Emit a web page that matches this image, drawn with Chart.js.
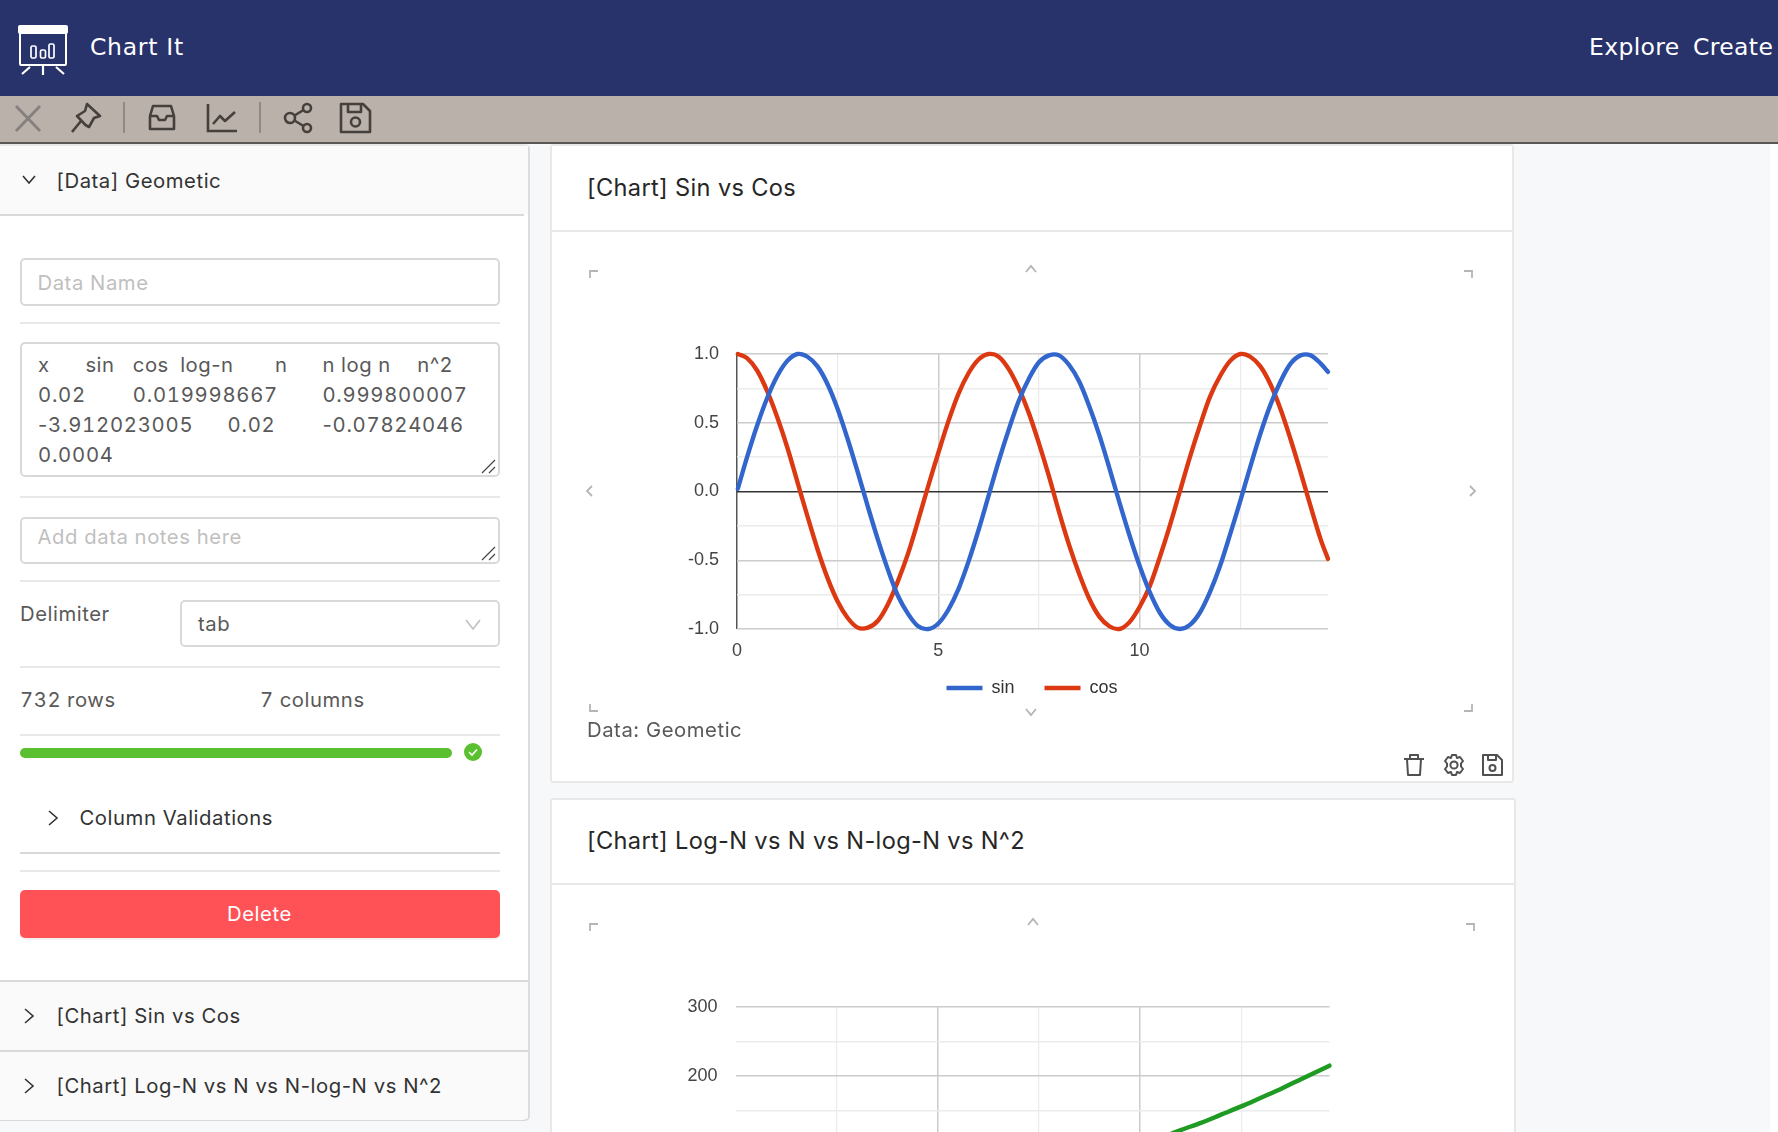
<!DOCTYPE html>
<html>
<head>
<meta charset="utf-8">
<script src="https://cdn.jsdelivr.net/npm/chart.js@4/dist/chart.umd.min.js"></script>
<style>
html,body{margin:0;padding:0;width:1778px;height:1132px;overflow:hidden;background:#fff;}
#page{position:absolute;left:0;top:0;width:1778px;height:1132px;overflow:hidden;background:#fff;font-family:Inter,sans-serif;}
.box{position:absolute;box-sizing:border-box;}
.t{position:absolute;transform:translateY(-50%);white-space:nowrap;font-family:Inter,sans-serif;font-size:20.3px;letter-spacing:.55px;color:#333;line-height:1;}
.ph{color:#bfbfbf;}
.g{color:#595959;letter-spacing:.55px;}
.num{font-variant-numeric:tabular-nums;}
.hr{position:absolute;left:20px;width:480px;height:2px;background:#e8e8e8;}
.field{position:absolute;box-sizing:border-box;border:2px solid #d9d9d9;border-radius:5px;background:#fff;}
svg{position:absolute;overflow:visible;}
.card{position:absolute;box-sizing:border-box;background:#fff;border:2px solid #e8e8e8;border-radius:3px;}
canvas{position:absolute;display:block;}
.h{font-family:"DejaVu Sans",sans-serif;color:#fff;font-size:23.5px;letter-spacing:.35px;}
#dataText{position:absolute;left:38px;top:349.5px;width:450px;font:20.3px/30px Inter,sans-serif;color:#595959;white-space:pre;tab-size:47.4px;}
#dataText div{letter-spacing:.75px;font-variant-numeric:tabular-nums;}
#dataText div:first-child{letter-spacing:.5px;font-variant-numeric:normal;}
#dataText span{font-variant-numeric:normal;}
</style>
</head>
<body>
<div id="page">
  <div class="box" style="left:0;top:144px;width:1770px;height:988px;background:#f7f8fa"></div>

  <!-- header -->
  <div class="box" style="left:0;top:0;width:1778px;height:96px;background:#28326b"></div>
  <svg style="left:18px;top:25px" width="50" height="50" viewBox="0 0 50 50" fill="none" stroke="#fff" stroke-width="2">
    <rect x="0" y="0" width="50" height="9" rx="2" fill="#fff" stroke="none"/>
    <rect x="2" y="8" width="46" height="32" rx="1"/>
    <rect x="13" y="21" width="5" height="12" rx="1.5" stroke-width="1.7"/><rect x="22.5" y="25" width="5" height="8" rx="1.5" stroke-width="1.7"/><rect x="31" y="19" width="5" height="14" rx="1.5" stroke-width="1.7"/>
    <path d="M12 42 L4 49 M25 41 V50 M38 42 L46 49" stroke-width="2.2"/>
  </svg>
  <div class="t h" style="left:90px;top:47.5px;letter-spacing:.7px">Chart It</div>
  <div class="t h" style="left:1589px;top:47.5px">Explore</div>
  <div class="t h" style="left:1693px;top:47.5px">Create</div>

  <!-- toolbar -->
  <div class="box" style="left:0;top:96px;width:1778px;height:47px;background:#bab1ab"></div>
  <div class="box" style="left:0;top:142px;width:1778px;height:2px;background:#5a5655"></div>
  <svg style="left:15px;top:106px" width="26" height="25" fill="none" stroke="#85807d" stroke-width="2.8"><path d="M1 0 L25 25 M25 0 L1 25"/></svg>
  <svg style="left:71px;top:103px" width="30" height="30" viewBox="0 0 30 30" fill="none" stroke="#46403d" stroke-width="2.6" stroke-linejoin="round"><path d="M16 1 L29 13 L23 15 L18 24 L14.5 22 L6 13 L14 8 Z"/><path d="M10 18 L1 29"/></svg>
  <div class="box" style="left:123px;top:102px;width:2px;height:31px;background:#8f8a87"></div>
  <svg style="left:149px;top:105px" width="26" height="25" viewBox="0 0 26 25" fill="none" stroke="#46403d" stroke-width="2.6" stroke-linejoin="round"><path d="M1 11 L4 1 H22 L25 11 V24 H1 Z"/><path d="M1 11 H8 L10 15 H16 L18 11 H25"/></svg>
  <svg style="left:207px;top:104px" width="30" height="28" fill="none" stroke="#46403d" stroke-width="2.6"><path d="M1 0 V27 H30"/><path d="M6 20 L13 12 L18 17 L28 8" stroke-linejoin="round"/></svg>
  <div class="box" style="left:259px;top:102px;width:2px;height:31px;background:#8f8a87"></div>
  <svg style="left:284px;top:103px" width="28" height="30" fill="none" stroke="#46403d" stroke-width="2.6"><circle cx="6" cy="15" r="5"/><circle cx="23" cy="5" r="4"/><circle cx="23" cy="25" r="4"/><path d="M10.5 12.5 L19.5 7 M10.5 17.5 L19.5 23"/></svg>
  <svg style="left:340px;top:103px" width="31" height="30" fill="none" stroke="#46403d" stroke-width="2.6" stroke-linejoin="round"><path d="M1 1 H23 L30 8 V29 H1 Z"/><path d="M8 1 V9 H21 V1"/><circle cx="15.5" cy="19" r="4.5"/></svg>

  <!-- sidebar -->
  <div class="box" style="left:0;top:144px;width:530px;height:977px;background:#fff;border-right:2px solid #dcdcdc;border-bottom:2px solid #d9d9d9;border-top:2px solid #e8e8e8;border-radius:0 5px 5px 0"></div>
  <div class="box" style="left:0;top:146px;width:528px;height:68px;background:#fafafa"></div>
  <div class="box" style="left:0;top:214px;width:524px;height:2px;background:#d9d9d9"></div>
  <svg style="left:22px;top:175px" width="14" height="9" fill="none" stroke="#333" stroke-width="1.6"><path d="M1 1 L7 8 L13 1"/></svg>
  <div class="t" style="left:56.5px;top:181px">[Data] Geometic</div>

  <div class="field" style="left:20px;top:258px;width:480px;height:48px"></div>
  <div class="t ph" style="left:37.5px;top:283px">Data Name</div>
  <div class="hr" style="top:322px"></div>

  <div class="field" style="left:20px;top:342px;width:480px;height:135px"></div>
  <div id="dataText"></div>
  <svg style="left:481px;top:459px" width="15" height="15" fill="none" stroke="#444" stroke-width="1.2"><path d="M1 14 L14 1 M8 14 L14 8"/></svg>
  <div class="hr" style="top:496px"></div>

  <div class="field" style="left:20px;top:517px;width:480px;height:47px"></div>
  <div class="t ph" style="left:37.5px;top:536.5px">Add data notes here</div>
  <svg style="left:481px;top:546px" width="15" height="15" fill="none" stroke="#444" stroke-width="1.2"><path d="M1 14 L14 1 M8 14 L14 8"/></svg>
  <div class="hr" style="top:580px"></div>

  <div class="t g" style="left:20px;top:614px">Delimiter</div>
  <div class="field" style="left:180px;top:600px;width:320px;height:47px"></div>
  <div class="t g" style="left:198px;top:624px">tab</div>
  <svg style="left:465px;top:619px" width="16" height="11" fill="none" stroke="#bfbfbf" stroke-width="1.6"><path d="M1 1 L8 10 L15 1"/></svg>
  <div class="hr" style="top:666px"></div>

  <div class="t g num" style="left:20px;top:700px">732 rows</div>
  <div class="t g num" style="left:260px;top:700px">7 columns</div>
  <div class="hr" style="top:734px"></div>

  <div class="box" style="left:20px;top:748px;width:432px;height:10px;background:#5ac02f;border-radius:5px"></div>
  <svg style="left:464px;top:743px" width="18" height="18"><circle cx="9" cy="9" r="9" fill="#5ac02f"/><path d="M5 9 L8 12 L13 6.5" fill="none" stroke="#fff" stroke-width="1.6"/></svg>

  <svg style="left:48px;top:810px" width="10" height="16" fill="none" stroke="#333" stroke-width="1.6"><path d="M1 1 L9 8 L1 15"/></svg>
  <div class="t" style="left:79.5px;top:818px">Column Validations</div>
  <div class="hr" style="top:852px;background:#d9d9d9"></div>
  <div class="hr" style="top:870px"></div>

  <div class="box" style="left:20px;top:890px;width:480px;height:47.5px;background:#ff5257;border-radius:5px;box-shadow:0 2px 0 rgba(0,0,0,.05)"></div>
  <div class="t" style="left:227px;top:914px;color:#fff">Delete</div>

  <div class="box" style="left:0;top:980px;width:528px;height:70px;background:#fafafa;border-top:2px solid #d9d9d9"></div>
  <div class="box" style="left:0;top:1050px;width:528px;height:70px;background:#fafafa;border-top:2px solid #d9d9d9;border-radius:0 0 5px 0"></div>
  <svg style="left:24px;top:1008px" width="10" height="16" fill="none" stroke="#333" stroke-width="1.6"><path d="M1 1 L9 8 L1 15"/></svg>
  <svg style="left:24px;top:1078px" width="10" height="16" fill="none" stroke="#333" stroke-width="1.6"><path d="M1 1 L9 8 L1 15"/></svg>
  <div class="t" style="left:56.5px;top:1016px">[Chart] Sin vs Cos</div>
  <div class="t" style="left:56.5px;top:1086px">[Chart] Log-N vs N vs N-log-N vs N^2</div>

  <!-- chart card 1 -->
  <div class="card" style="left:550px;top:144px;width:964px;height:639px"></div>
  <div class="box" style="left:550px;top:230px;width:964px;height:2px;background:#e8e8e8"></div>
  <div class="t" style="left:587px;top:188px;font-size:23.6px;color:#262626;letter-spacing:.35px">[Chart] Sin vs Cos</div>
  <svg style="left:0;top:0" width="1778" height="1132" fill="none" stroke="#b5b5b5" stroke-width="1.8">
    <path d="M590 278 V271 H598 M1464 271 H1472 V278 M590 704 V711 H598 M1464 711 H1472 V704"/>
    <path d="M1026 272 L1031 266 L1036 272 M1026 709 L1031 715 L1036 709 M592 486 L587 491 L592 496 M1470 486 L1475 491 L1470 496"/>
  </svg>
  <canvas id="chartA" width="960" height="487" style="left:552px;top:240px"></canvas>
  <div class="t g" style="left:587px;top:730px">Data: Geometic</div>
  <svg style="left:1403px;top:754px" width="22" height="22" fill="none" stroke="#505050" stroke-width="2" stroke-linejoin="round"><path d="M1 5 H21 M4 5 L5 21 H17 L18 5 M7 5 V1 H15 V5"/></svg>
  <svg style="left:1443px;top:754px" width="22" height="22" viewBox="0 0 22 22" fill="none" stroke="#505050" stroke-width="2" stroke-linejoin="round"><circle cx="11" cy="11" r="3.6"/><path d="M9 1 H13 L14 4 L17 3 L20 7 L18 9.5 V12.5 L20 15 L17 19 L14 18 L13 21 H9 L8 18 L5 19 L2 15 L4 12.5 V9.5 L2 7 L5 3 L8 4 Z"/></svg>
  <svg style="left:1482px;top:754px" width="21" height="22" fill="none" stroke="#505050" stroke-width="2" stroke-linejoin="round"><path d="M1 1 H15 L20 6 V21 H1 Z"/><path d="M6 1 V6 H14 V1"/><circle cx="10.5" cy="14" r="3"/></svg>

  <!-- chart card 2 -->
  <div class="card" style="left:550px;top:798px;width:966px;height:400px"></div>
  <div class="box" style="left:550px;top:883px;width:966px;height:2px;background:#e8e8e8"></div>
  <div class="t" style="left:587px;top:841px;font-size:23.6px;color:#262626;letter-spacing:.35px">[Chart] Log-N vs N vs N-log-N vs N^2</div>
  <svg style="left:0;top:0" width="1778" height="1132" fill="none" stroke="#b5b5b5" stroke-width="1.8">
    <path d="M590 931 V924 H598 M1466 924 H1474 V931"/>
    <path d="M1028 925 L1033 919 L1038 925"/>
  </svg>
  <canvas id="chartB" width="964" height="489" style="left:552px;top:892px"></canvas>
</div>

<script>
// Values
const dataTextLines = ["x\tsin\tcos\tlog-n\tn\tn log n\tn^2","0.02\t0.019998667\t0.999800007","-3.912023005\t0.02\t-0.07824046","0.0004"];

const waveX = [0.02,0.25,0.5,0.75,1,1.25,1.5,1.75,2,2.25,2.5,2.75,3,3.25,3.5,3.75,4,4.25,4.5,4.75,5,5.25,5.5,5.75,6,6.25,6.5,6.75,7,7.25,7.5,7.75,8,8.25,8.5,8.75,9,9.25,9.5,9.75,10,10.25,10.5,10.75,11,11.25,11.5,11.75,12,12.25,12.5,12.75,13,13.25,13.5,13.75,14,14.25,14.5,14.68];
const sinValues = [0.02,0.25,0.48,0.68,0.84,0.95,1.0,0.98,0.91,0.78,0.6,0.38,0.14,-0.11,-0.35,-0.57,-0.76,-0.89,-0.98,-1.0,-0.96,-0.86,-0.71,-0.51,-0.28,-0.03,0.22,0.45,0.66,0.82,0.94,0.99,0.99,0.92,0.8,0.62,0.41,0.17,-0.08,-0.32,-0.54,-0.73,-0.88,-0.97,-1.0,-0.97,-0.88,-0.73,-0.54,-0.31,-0.07,0.18,0.42,0.63,0.8,0.93,0.99,0.99,0.93,0.87];
const cosValues = [1.0,0.97,0.88,0.73,0.54,0.32,0.07,-0.18,-0.42,-0.63,-0.8,-0.92,-0.99,-0.99,-0.94,-0.82,-0.65,-0.45,-0.21,0.04,0.28,0.51,0.71,0.86,0.96,1.0,0.98,0.89,0.75,0.57,0.35,0.11,-0.15,-0.39,-0.6,-0.78,-0.91,-0.98,-1.0,-0.95,-0.84,-0.69,-0.48,-0.25,0.0,0.25,0.48,0.69,0.84,0.95,1.0,0.98,0.91,0.78,0.6,0.38,0.14,-0.11,-0.35,-0.49];

const squareX = [10,10.5,11,11.5,12,12.5,13,13.5,14,14.68];
const squareValues = [100,110,121.5,132,144,156,169,182,196,215];

const legendSin = "sin", legendCos = "cos", seriesSquare = "n^2";
const wave_yMin = -1, wave_yMax = 1, wave_yStep = 0.25;
const square_yMin = -100, square_yMax = 300, square_yStep = 50;
const xStep = 2.5;
const waveXMax = 14.68, squareXMax = 14.68;

document.getElementById('dataText').innerHTML = dataTextLines
  .map(l => '<div>' + l.replace(/-(?=\d)/g, '<span>-</span>') + '</div>').join('');

const pts = (xs, ys) => xs.map((x, i) => ({x, y: ys[i]}));
const font = {family: '"Liberation Sans", Arial, sans-serif', size: 18};

function isMajor(v, m) { return Math.abs(v / m - Math.round(v / m)) < 1e-6; }

function axes(cfg) {
  return {
    x: {
      type: 'linear', min: 0, max: cfg.xMax,
      afterFit: s => { s.height = 40; },
      border: {display: false},
      grid: {
        drawTicks: false,
        color: c => {
          const v = c.tick.value;
          if (v === 0) return cfg.xAxisColor;
          return v % 5 === 0 ? '#cccccc' : '#ebebeb';
        },
        lineWidth: c => c.tick.value % 5 === 0 ? 1.5 : 1.2
      },
      ticks: {
        stepSize: xStep, includeBounds: false, autoSkip: false, maxRotation: 0, padding: 11,
        color: '#444', font,
        callback: v => v % 5 === 0 ? String(v) : ''
      }
    },
    y: {
      type: 'linear', position: 'left', min: cfg.yMin, max: cfg.yMax,
      afterFit: s => { s.width = cfg.leftW; },
      border: {display: false},
      grid: {
        drawTicks: false,
        color: c => {
          const v = c.tick.value;
          if (v === 0) return '#333333';
          return isMajor(v, cfg.yMajor) ? '#cccccc' : '#ebebeb';
        },
        lineWidth: 1.5
      },
      ticks: {
        stepSize: cfg.yStep, autoSkip: false, padding: 18, color: '#444', font,
        callback: v => isMajor(v, cfg.yMajor) ? cfg.fmt(v) : ''
      }
    },
    spacer: {
      type: 'linear', position: 'right', display: true,
      afterFit: s => { s.width = cfg.rightW; },
      border: {display: false}, grid: {display: false}, ticks: {display: false}
    }
  };
}

// Pulls the legend up under the tick labels, as in the reference
const legendLift = {id: 'legendLift', afterLayout(c) { c.legend.top -= 20; c.legend.bottom -= 20; }};

const lineDefaults = {borderWidth: 4.4, pointRadius: 0, tension: 0.33, clip: 6, pointStyle: 'line', borderCapStyle: 'round', yAxisID: 'y'};
const legendOpts = {
  position: 'bottom',
  labels: {usePointStyle: true, pointStyleWidth: 36, boxHeight: 17, padding: 30, color: '#333', font}
};

new Chart(document.getElementById('chartA'), {
  type: 'line',
  data: {datasets: [
    {label: legendSin, data: pts(waveX, sinValues), borderColor: '#3366cc', backgroundColor: '#3366cc', ...lineDefaults},
    {label: legendCos, data: pts(waveX, cosValues), borderColor: '#dc3912', backgroundColor: '#dc3912', ...lineDefaults}
  ]},
  plugins: [legendLift],
  options: {
    responsive: false, animation: false, devicePixelRatio: 1, parsing: false,
    elements: {line: {capBezierPoints: false}},
    layout: {padding: {top: 114, left: 0, right: 0, bottom: 0}},
    scales: axes({xMax: waveXMax, xAxisColor: '#555555', yMin: wave_yMin, yMax: wave_yMax, yStep: wave_yStep, yMajor: 0.5, leftW: 185, rightW: 184, fmt: v => v.toFixed(1)}),
    plugins: {tooltip: {enabled: false}, legend: legendOpts}
  }
});

new Chart(document.getElementById('chartB'), {
  type: 'line',
  data: {datasets: [
    {label: seriesSquare, data: pts(squareX, squareValues), borderColor: '#1f9a22', backgroundColor: '#1f9a22', ...lineDefaults}
  ]},
  plugins: [legendLift],
  options: {
    responsive: false, animation: false, devicePixelRatio: 1, parsing: false,
    elements: {line: {capBezierPoints: false}},
    layout: {padding: {top: 115, left: 0, right: 0, bottom: 0}},
    scales: axes({xMax: squareXMax, xAxisColor: 'rgba(0,0,0,0)', yMin: square_yMin, yMax: square_yMax, yStep: square_yStep, yMajor: 100, leftW: 183.5, rightW: 186.5, fmt: v => String(v)}),
    plugins: {tooltip: {enabled: false}, legend: legendOpts}
  }
});
</script>
</body>
</html>
